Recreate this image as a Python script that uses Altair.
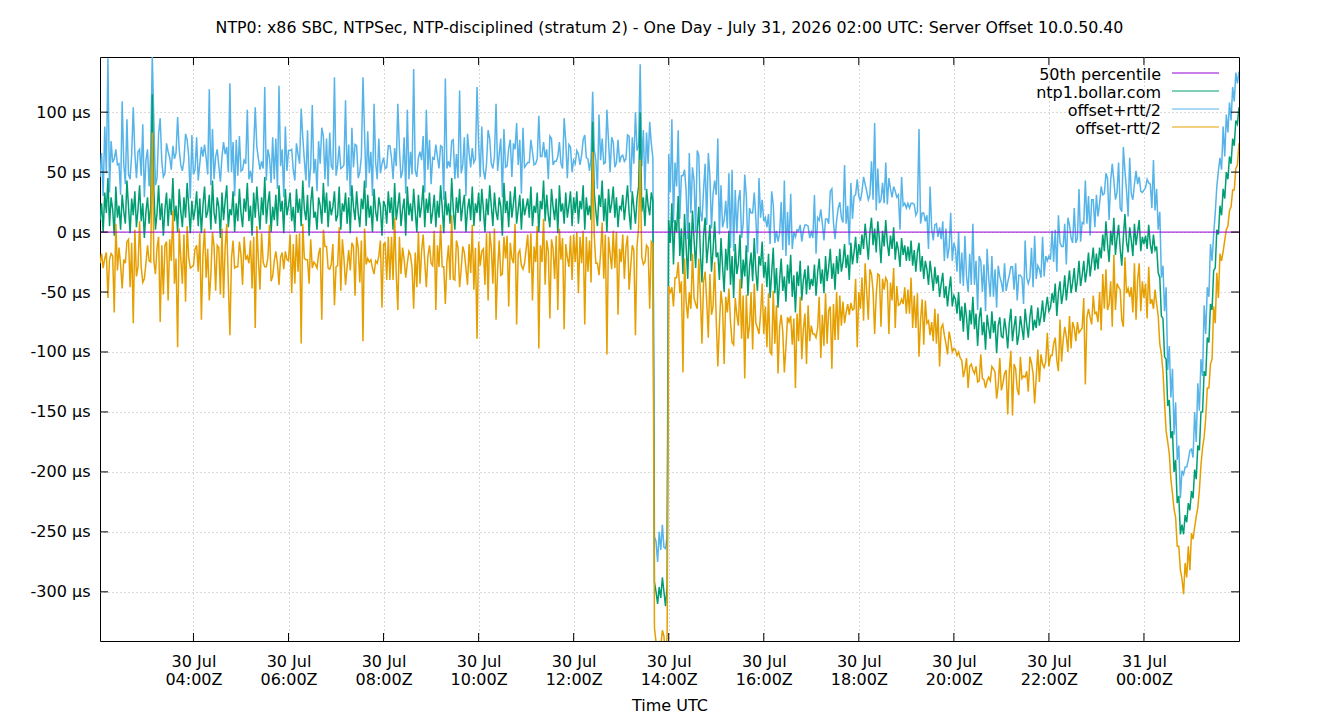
import altair as alt
import pandas as pd

# Server offset of ntp1.bollar.com (µs), one sample every 2 minutes,
# 30 Jul 02:02Z through 31 Jul 02:00Z, one row per hour (30 samples).
offset_us = [
    10, 24, 0, 33, 16, 45, 5, 29, 19, -3, 38, 12, 22, 2, 31, 17, 7, 43, 21, -1, 28, 14, 34, 4, 19, 39, 9, 24, -5, 17,
    29, 7, 21, 115, 34, 2, 16, 39, 10, 24, -3, 19, 33, 5, 28, 14, 45, 9, 22, 0, 36, 17, 4, 29, 12, 41, 21, -1, 26, 10,
    19, 34, 5, 28, -1, 22, 38, 12, 17, 31, 2, 43, 16, 7, 29, 21, -5, 33, 10, 26, 39, 4, 19, 14, 34, 0, 24, 9, 36, 16,
    4, 28, 17, 41, 9, 22, -3, 33, 12, 38, 19, 2, 29, 14, 46, 7, 24, 34, 0, 21, 10, 31, 5, 39, 17, 26, -1, 36, 14, 22,
    33, 9, 21, 0, 36, 16, 28, 5, 43, 19, 10, 31, -3, 24, 38, 12, 17, 2, 29, 22, 7, 41, 16, 33, 4, 26, 14, 21, 34, 9,
    14, 38, 2, 24, 17, 33, 7, 29, -1, 39, 21, 10, 34, 16, 4, 28, 19, 43, 5, 31, 12, 22, 0, 36, 17, 9, 29, 21, -3, 26,
    22, 7, 34, 16, 29, 2, 41, 10, 21, 33, 5, 19, 28, -3, 38, 14, 24, 9, 36, 17, 0, 31, 12, 22, 39, 4, 28, 16, 33, 7,
    17, 31, 4, 26, 12, 39, 21, -1, 34, 14, 24, 7, 45, 19, 2, 29, 16, 36, 9, 22, 31, 0, 19, 28, 10, 38, 5, 24, 16, 33,
    9, 36, 19, 0, 28, 14, 39, 22, 5, 33, 17, 10, 29, 21, -3, 41, 16, 26, 4, 34, 12, 24, 38, 7, 19, 31, 2, 28, 14, 21,
    28, 12, 38, 5, 22, 16, 33, 0, 26, 19, 43, 9, 31, 14, 4, 36, 21, 10, 28, -1, 39, 17, 24, 7, 33, 12, 22, 34, 5, 29,
    16, 34, 7, 26, 19, 39, 2, 29, 14, 22, 10, 92, 33, 17, 5, 31, 21, 43, 9, 28, 0, 36, 16, 24, 38, 12, 29, 4, 22, 19,
    31, 10, 24, 39, 16, 2, 34, 21, 7, 28, 38, 100, 17, 29, 5, 36, 22, 14, 33, 26,
    -292, -300, -310, -296, -305, -288, -300, -312, -295, 10,
    -9, 24, -27, 10, 0, 30, -20, 3, -35, 15, -12, -39, 8, -24, 18, -6, -30, 2, 21, -18, -42, -3, 12, -26, -11, 6, -33, -15, 9, -21,
    -17, -40, -5, -29, -50, -14, -32, 1, -44, -20, -55, -10, -35, -26, -2, -47, -23, -37, -11, -53, -29, -17, -41, -5, -32, -49, -20, -28, -8, -38,
    -25, -46, -18, -55, -34, -13, -51, -30, -63, -40, -22, -49, -37, -58, -27, -43, -19, -54, -36, -67, -33, -45, -24, -57, -40, -31, -52, -28, -48, -39,
    -45, -27, -53, -34, -22, -43, -31, -51, -20, -41, -29, -14, -39, -26, -48, -20, -35, -14, -33, -25, -10, -30, -19, -40, -9, -27, -17, -4, -26, -10,
    -19, -2, -14, 7, -8, -23, 0, 12, -11, 3, -17, 9, -6, -26, 1, -12, 10, -9, -20, -3, -14, 4, -23, -8, -15, -29, -5, -19, -11, -24,
    -12, -24, -7, -28, -15, -33, -17, -9, -33, -20, -39, -24, -31, -44, -24, -36, -49, -29, -43, -36, -54, -43, -34, -55, -45, -62, -48, -37, -62, -53,
    -56, -68, -50, -74, -62, -83, -59, -71, -90, -65, -77, -54, -81, -68, -95, -72, -63, -86, -75, -98, -69, -80, -89, -66, -84, -74, -101, -78, -71, -87,
    -88, -72, -82, -97, -76, -64, -91, -79, -70, -94, -86, -70, -80, -90, -64, -77, -88, -71, -61, -82, -73, -80, -63, -78, -70, -57, -75, -64, -54, -66,
    -63, -51, -59, -43, -70, -51, -41, -60, -51, -36, -57, -44, -32, -51, -42, -30, -50, -40, -24, -45, -36, -24, -42, -32, -17, -37, -25, -13, -32, -18,
    -31, -13, -22, -2, -16, 9, -10, -25, 1, -11, 12, -19, -5, 6, -14, -28, -4, 15, -8, -17, 4, -7, -20, 7, -11, 0, 10, -16, -4, -10,
    -3, -14, 6, -10, -18, -2, -15, -12, -34, -38, -70, -72, -104, -106, -145, -140, -172, -166, -200, -190, -226, -220, -252, -244, -252, -236, -242, -226, -232, -216,
    -222, -198, -206, -178, -182, -150, -150, -116, -120, -88, -92, -60, -65, -32, -30, 2, -2, 22, 14, 36, 28, 50, 44, 63, 57, 78, 72, 93, 90, 104,
]

# Half of the round-trip time (µs) for the same samples.
half_rtt_us = [
    36, 42, 30, 55, 33, 100, 28, 47, 39, 64, 31, 44, 35, 29, 78, 40, 33, 51, 27, 45, 37, 90, 32, 41, 48, 30, 38, 66, 34, 43,
    40, 31, 46, 32, 58, 37, 29, 43, 85, 35, 49, 30, 41, 62, 34, 38, 27, 52, 44, 96, 33, 39, 47, 31, 70, 36, 42, 29, 55, 38,
    33, 45, 38, 29, 72, 41, 35, 50, 31, 88, 37, 43, 28, 56, 40, 34, 47, 30, 65, 39, 32, 46, 105, 36, 41, 30, 53, 38, 44, 35,
    48, 32, 40, 61, 35, 29, 44, 37, 92, 33, 42, 50, 30, 39, 75, 36, 45, 28, 41, 58, 34, 47, 31, 83, 38, 43, 30, 52, 37, 46,
    35, 60, 31, 43, 38, 49, 29, 98, 36, 41, 33, 54, 40, 30, 68, 37, 44, 32, 47, 35, 80, 39, 28, 45, 34, 57, 41, 31, 95, 38,
    42, 34, 51, 30, 39, 77, 36, 44, 31, 48, 33, 63, 38, 29, 46, 35, 110, 40, 32, 53, 37, 45, 30, 71, 41, 35, 49, 28, 60, 36,
    31, 47, 38, 56, 33, 42, 29, 45, 86, 37, 40, 32, 51, 35, 64, 30, 43, 39, 100, 34, 46, 31, 55, 38, 41, 29, 74, 36, 44, 33,
    45, 30, 69, 37, 41, 33, 50, 28, 94, 39, 35, 47, 31, 58, 42, 36, 29, 82, 40, 34, 48, 30, 63, 38, 44, 32, 53, 37, 105, 41,
    37, 52, 33, 44, 29, 71, 39, 35, 48, 30, 90, 41, 36, 57, 32, 45, 38, 29, 66, 43, 34, 50, 31, 84, 37, 46, 30, 59, 40, 35,
    30, 46, 39, 62, 34, 41, 28, 97, 37, 44, 32, 53, 38, 30, 76, 42, 35, 49, 31, 64, 36, 40, 29, 88, 43, 33, 51, 37, 45, 31,
    41, 34, 58, 30, 45, 38, 79, 33, 47, 29, 52, 25, 36, 43, 31, 67, 39, 35, 48, 30, 102, 40, 34, 55, 37, 42, 29, 73, 36, 44,
    33, 49, 37, 42, 64, 31, 45, 36, 93, 40, 34, 40, 38, 56, 30, 47, 35, 78, 41, 36, 38, 42, 35, 46, 40, 44, 37, 48, 41, 55,
    42, 70, 35, 48, 38, 55, 31, 44, 82, 37, 46, 33, 58, 40, 36, 49, 30, 66, 43, 35, 51, 38, 45, 32, 77, 41, 36, 47, 34, 52,
    95, 38, 44, 33, 60, 40, 35, 48, 31, 72, 39, 45, 34, 52, 37, 42, 30, 85, 41, 36, 49, 33, 57, 38, 44, 31, 65, 40, 35, 47,
    37, 50, 33, 45, 68, 36, 42, 31, 55, 39, 47, 34, 80, 38, 44, 32, 51, 40, 36, 63, 35, 46, 30, 49, 41, 37, 58, 33, 43, 39,
    40, 58, 35, 46, 32, 62, 38, 44, 31, 52, 36, 48, 75, 34, 42, 30, 55, 39, 45, 33, 66, 37, 41, 29, 50, 38, 47, 35, 70, 40,
    45, 36, 60, 33, 42, 50, 31, 47, 38, 88, 35, 44, 30, 53, 40, 36, 48, 32, 65, 39, 43, 34, 57, 37, 46, 31, 51, 41, 35, 44,
    36, 44, 31, 52, 38, 47, 34, 95, 40, 36, 55, 33, 45, 30, 62, 39, 42, 35, 50, 32, 58, 37, 43, 31, 48, 40, 35, 53, 38, 44,
    42, 35, 50, 31, 45, 38, 56, 34, 40, 47, 33, 61, 37, 44, 30, 52, 39, 36, 48, 32, 55, 41, 35, 46, 30, 43, 38, 50, 34, 45,
    38, 46, 33, 55, 40, 35, 62, 31, 44, 37, 50, 34, 42, 30, 57, 39, 45, 33, 48, 36, 70, 41, 35, 47, 32, 53, 38, 44, 30, 46,
    40, 52, 34, 45, 37, 65, 32, 48, 39, 43, 30, 56, 38, 46, 33, 50, 41, 35, 60, 37, 44, 31, 85, 39, 47, 34, 52, 40, 36, 49,
    44, 37, 60, 33, 48, 40, 55, 35, 42, 68, 31, 46, 38, 52, 34, 45, 75, 36, 43, 30, 58, 39, 47, 33, 62, 40, 36, 50, 37, 45,
    40, 58, 35, 50, 38, 62, 33, 48, 36, 55, 32, 44, 38, 60, 30, 45, 34, 52, 31, 48, 36, 42, 30, 45, 50, 40, 46, 36, 50, 35,
    34, 48, 31, 52, 33, 44, 30, 55, 35, 42, 38, 50, 41, 30, 46, 36, 53, 40, 38, 52, 35, 48, 39, 45, 36, 43, 37, 40, 34, 30,
]

percentile_50_us = [0.0]

series_names = ["50th percentile", "ntp1.bollar.com", "offset+rtt/2", "offset-rtt/2"]
series_colors = ["#9400d3", "#009e73", "#56b4e9", "#e69f00"]

y_ticks_us = [-300, -250, -200, -150, -100, -50, 0, 50, 100]
x_tick_hours = ["2026-07-30 04:00", "2026-07-30 06:00", "2026-07-30 08:00",
                "2026-07-30 10:00", "2026-07-30 12:00", "2026-07-30 14:00",
                "2026-07-30 16:00", "2026-07-30 18:00", "2026-07-30 20:00",
                "2026-07-30 22:00", "2026-07-31 00:00"]
x_range = ["2026-07-30 02:02", "2026-07-31 02:00"]
y_range = [-341, 146]

TITLE = ("NTP0: x86 SBC, NTPSec, NTP-disciplined (stratum 2) - One Day - "
         "July 31, 2026 02:00 UTC: Server Offset 10.0.50.40")
FONT = "DejaVu Sans"
FS = 16
W, H = 1139, 584

assert len(offset_us) == len(half_rtt_us) == 720


def ms(ts):
    return int(pd.Timestamp(ts, tz="UTC").value // 10**6)


start = pd.Timestamp("2026-07-30 02:02", tz="UTC")
t_ms = [int((start + pd.Timedelta(minutes=2 * i)).value // 10**6) for i in range(len(offset_us))]

df = pd.DataFrame({"t": t_ms, "offset": offset_us, "half": half_rtt_us})
df["upper"] = df["offset"] + df["half"]
df["lower"] = df["offset"] - df["half"]

x_ticks_ms = [ms(s) for s in x_tick_hours]

x_enc = alt.X(
    "t:T",
    scale=alt.Scale(type="utc", domain=[ms(x_range[0]), ms(x_range[1])]),
    axis=alt.Axis(
        values=x_ticks_ms,
        labelExpr="[utcFormat(datum.value, '%d %b'), utcFormat(datum.value, '%H:%MZ')]",
        title="Time UTC",
        labelLineHeight=18,
        labelPadding=12,
        titlePadding=10,
    ),
)
y_scale = alt.Scale(domain=y_range, nice=False, zero=False)
y_axis = alt.Axis(values=y_ticks_us, labelExpr="datum.value + ' µs'", title=None, labelPadding=10)

base = alt.Chart(df)


def series_line(field, color):
    return base.mark_line(color=color, strokeWidth=1.5, clip=True).encode(
        x=x_enc, y=alt.Y(f"{field}:Q", scale=y_scale, axis=y_axis)
    )


upper_line = series_line("upper", series_colors[2])
offset_line = series_line("offset", series_colors[1])
lower_line = series_line("lower", series_colors[3])

p50_rule = alt.Chart(pd.DataFrame({"v": percentile_50_us})).mark_rule(
    color=series_colors[0], strokeWidth=1
).encode(y=alt.Y("v:Q", scale=y_scale))

# inward tick marks on all four sides of the frame
xt = alt.Chart(pd.DataFrame({"t": x_ticks_ms}))
yt = alt.Chart(pd.DataFrame({"v": y_ticks_us}))
tick_style = dict(color="black", strokeWidth=1)
ticks = [
    xt.mark_rule(**tick_style).encode(x=alt.X("t:T"), y=alt.value(H), y2=alt.value(H - 8)),
    xt.mark_rule(**tick_style).encode(x=alt.X("t:T"), y=alt.value(0), y2=alt.value(8)),
    yt.mark_rule(**tick_style).encode(y=alt.Y("v:Q"), x=alt.value(0), x2=alt.value(8)),
    yt.mark_rule(**tick_style).encode(y=alt.Y("v:Q"), x=alt.value(W - 8), x2=alt.value(W)),
]

# key in the top-right corner: label, then a line sample to its right
key_layers = []
for i, (name, color) in enumerate(zip(series_names, series_colors)):
    yy = 16 + 18 * i
    key_layers.append(
        alt.Chart(pd.DataFrame({"name": [name]})).mark_text(
            align="right", baseline="middle", font=FONT, fontSize=FS, color="black"
        ).encode(text="name:N", x=alt.value(1061), y=alt.value(yy + 2))
    )
    key_layers.append(
        alt.Chart(pd.DataFrame({"name": [name]})).mark_rule(color=color, strokeWidth=1).encode(
            x=alt.value(1072), x2=alt.value(1119), y=alt.value(yy)
        )
    )

chart = alt.layer(
    upper_line, offset_line, lower_line, p50_rule, *ticks, *key_layers
).properties(
    width=W,
    height=H,
    autosize=alt.AutoSizeParams(type="none"),
    padding={"left": 100, "top": 57, "right": 101, "bottom": 79},
    background="white",
    title=alt.TitleParams(TITLE, font=FONT, fontSize=15.8, fontWeight="normal",
                          color="black", anchor="middle", offset=20),
).configure_view(
    stroke="black", strokeWidth=1
).configure_axis(
    labelFont=FONT, labelFontSize=FS, labelColor="black",
    titleFont=FONT, titleFontSize=FS, titleFontWeight="normal", titleColor="black",
    ticks=False, domain=False,
    grid=True, gridColor="#b4b4b4", gridDash=[1, 3], gridWidth=1,
)

chart.save("out.html", embed_options={"renderer": "svg", "actions": False})
